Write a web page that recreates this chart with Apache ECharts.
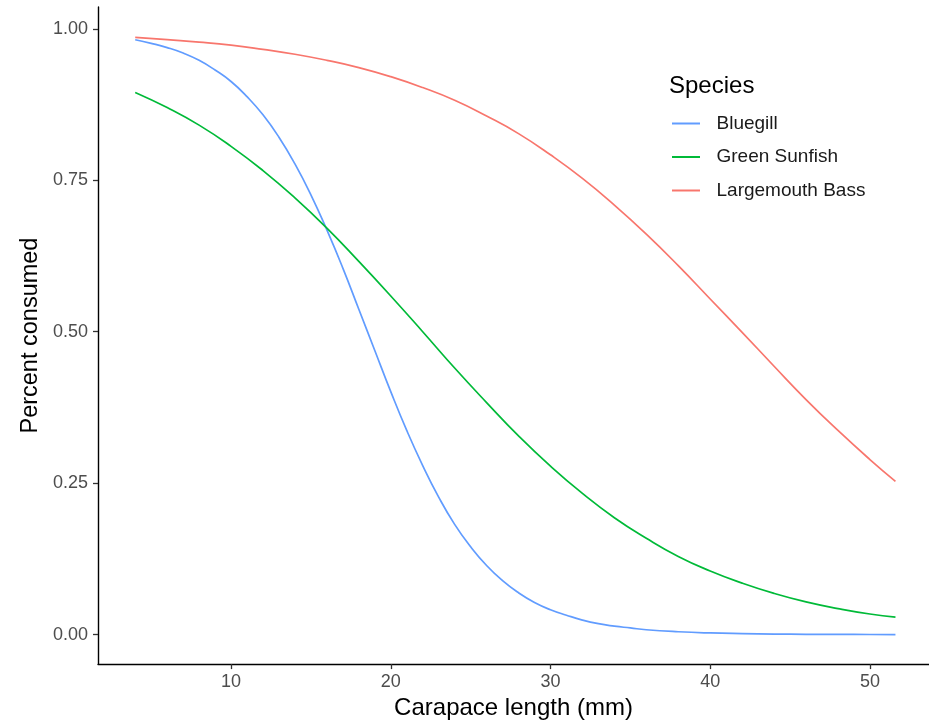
<!DOCTYPE html>
<html>
<head>
<meta charset="utf-8">
<script src="https://cdn.jsdelivr.net/npm/echarts@6/dist/echarts.min.js"></script>
<style>
html,body{margin:0;padding:0;background:#fff;}
#chart{width:929px;height:725px;}
</style>
</head>
<body>
<div id="chart"></div>
<script>
// Carapace length (mm)
const lengths = [4, 6, 8, 10, 12, 14, 16, 18, 20, 22, 24, 26, 28, 30, 32, 34, 36, 38, 40, 42, 44, 46, 48, 50, 51.6];
const bluegillLengths = [4, 5, 6, 7, 8, 9, 10, 11, 12, 13, 14, 15, 16, 17, 18, 19, 20, 21, 22, 23, 24, 25, 26, 27, 28, 29, 30, 31, 32, 33, 34, 35, 36, 38, 40, 42, 44, 46, 48, 50, 51.6];
const bluegill = [0.982, 0.976, 0.969, 0.960, 0.948, 0.932, 0.913, 0.888, 0.858, 0.821, 0.777, 0.726, 0.668, 0.605, 0.537, 0.469, 0.401, 0.337, 0.279, 0.227, 0.182, 0.145, 0.114, 0.089, 0.069, 0.053, 0.041, 0.032, 0.024, 0.018, 0.014, 0.011, 0.008, 0.0047, 0.0027, 0.0016, 0.0009, 0.0005, 0.0003, 0.0002, 0.0001];
const greenSunfish = [0.895, 0.870, 0.841, 0.806, 0.766, 0.721, 0.671, 0.616, 0.559, 0.500, 0.440, 0.383, 0.328, 0.278, 0.233, 0.193, 0.159, 0.129, 0.105, 0.085, 0.068, 0.054, 0.043, 0.034, 0.029];
const largemouthBass = [0.986, 0.982, 0.978, 0.973, 0.966, 0.958, 0.948, 0.936, 0.921, 0.903, 0.882, 0.856, 0.827, 0.792, 0.753, 0.709, 0.661, 0.609, 0.554, 0.499, 0.443, 0.388, 0.337, 0.289, 0.253];
const xTicks = [10, 20, 30, 40, 50];
const yTicks = [0, 0.25, 0.5, 0.75, 1];
const speciesNames = ['Bluegill', 'Green Sunfish', 'Largemouth Bass'];
const speciesColors = ['#619CFF', '#00BA38', '#F8766D'];
const speciesX = [bluegillLengths, lengths, lengths];
const speciesData = [bluegill, greenSunfish, largemouthBass];

const font = 'Liberation Sans, Arial, sans-serif';
const chart = echarts.init(document.getElementById('chart'), null, {renderer: 'canvas'});

const series = speciesNames.map((name, i) => ({
  name: name,
  type: 'line',
  data: speciesX[i].map((x, j) => [x, speciesData[i][j]]),
  smooth: true,
  showSymbol: false,
  symbol: 'none',
  lineStyle: {color: speciesColors[i], width: 1.7},
  itemStyle: {color: speciesColors[i]},
  emphasis: {disabled: true},
  animation: false
}));

chart.setOption({
  animation: false,
  backgroundColor: '#ffffff',
  title: {
    text: 'Species',
    left: 669, top: 74, padding: 0,
    textStyle: {fontFamily: font, fontSize: 24, fontWeight: 'normal', color: '#000'}
  },
  legend: {
    data: speciesNames,
    orient: 'vertical',
    left: 672, top: 114, padding: 0,
    itemWidth: 28, itemHeight: 2,
    itemGap: 14.5,
    icon: 'rect',
    textStyle: {fontFamily: font, fontSize: 19, color: '#1a1a1a', padding: [0, 0, 0, 11.5], lineHeight: 19}
  },
  grid: {left: 98, right: 0, top: 7, bottom: 56, containLabel: false},
  xAxis: {
    type: 'value',
    min: 1.67, max: 53.7,
    name: 'Carapace length (mm)',
    nameLocation: 'middle',
    nameGap: 31,
    nameTextStyle: {fontFamily: font, fontSize: 24, color: '#000'},
    axisLine: {show: true, onZero: false, lineStyle: {color: '#000', width: 1.4}},
    axisTick: {show: true, customValues: xTicks, length: 5, lineStyle: {color: '#333', width: 1.3}},
    axisLabel: {customValues: xTicks, margin: 9, fontFamily: font, fontSize: 18, color: '#4d4d4d'},
    splitLine: {show: false}
  },
  yAxis: {
    type: 'value',
    min: -0.0487, max: 1.036,
    name: 'Percent consumed',
    nameLocation: 'middle',
    nameGap: 53,
    nameRotate: 90,
    nameTextStyle: {fontFamily: font, fontSize: 23.5, color: '#000'},
    axisLine: {show: true, onZero: false, lineStyle: {color: '#000', width: 1.4}},
    axisTick: {show: true, customValues: yTicks, length: 5, lineStyle: {color: '#333', width: 1.3}},
    axisLabel: {customValues: yTicks, margin: 10, fontFamily: font, fontSize: 18, color: '#4d4d4d',
      formatter: v => v.toFixed(2)},
    splitLine: {show: false}
  },
  series: series
});
</script>
</body>
</html>
